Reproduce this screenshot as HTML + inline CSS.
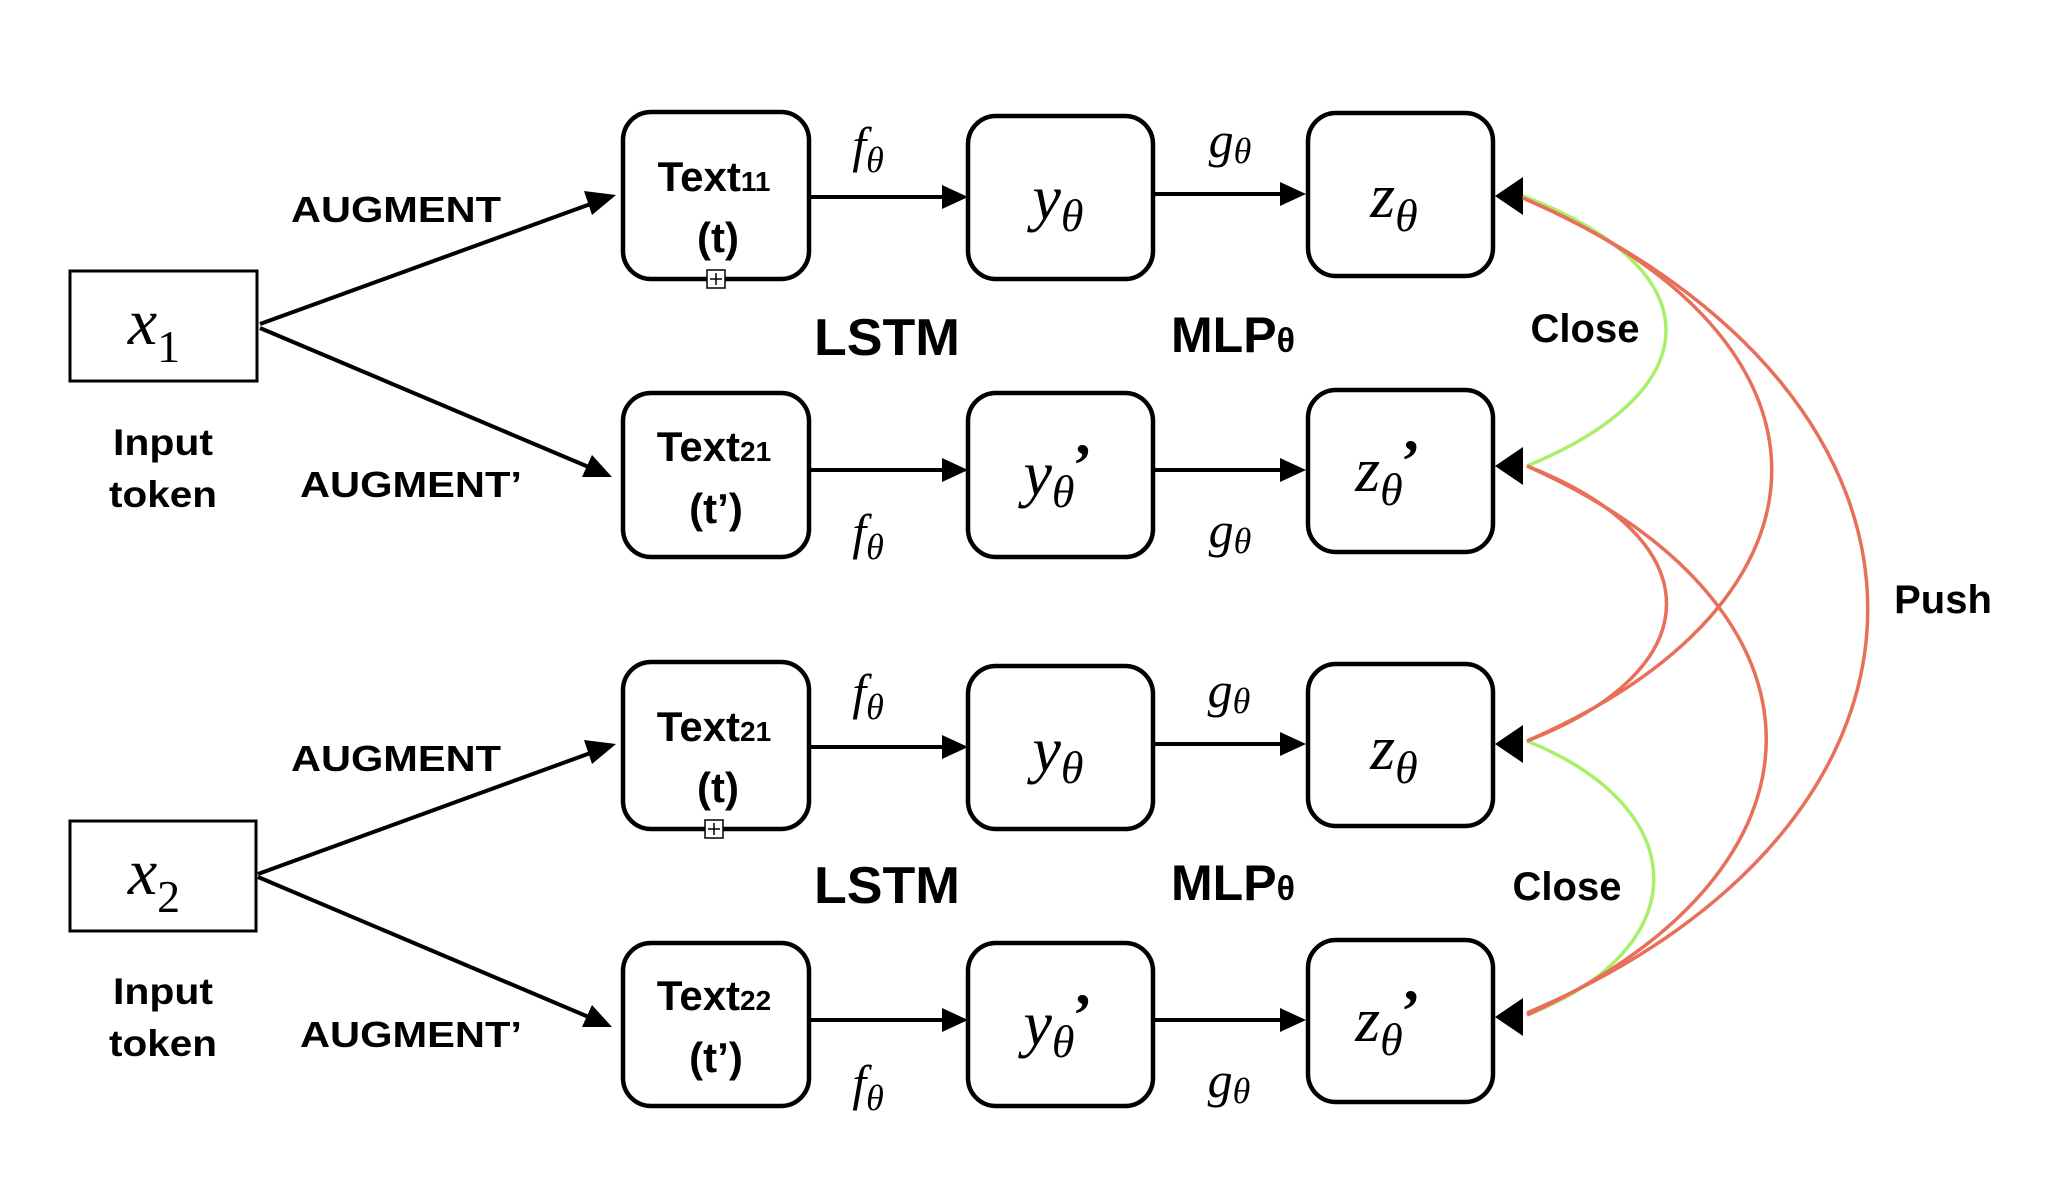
<!DOCTYPE html>
<html><head><meta charset="utf-8"><style>
html,body{margin:0;padding:0;background:#fff;}
svg{display:block;}
.b{font-family:"Liberation Sans",sans-serif;font-weight:bold;fill:#000;}
.m{font-family:"Liberation Serif",serif;font-style:italic;fill:#000;}
</style></head><body>
<svg width="2068" height="1202" viewBox="0 0 2068 1202" xmlns="http://www.w3.org/2000/svg">
<g transform="translate(-4,-1)">
<g fill="none" stroke="#000" stroke-width="3">
<rect x="74" y="272" width="187" height="110"/>
<rect x="74" y="822" width="186" height="110"/>
</g>
<g fill="none" stroke="#000" stroke-width="4.5">
<rect x="627" y="113" width="186" height="167" rx="28"/>
<rect x="627" y="394" width="186" height="164" rx="28"/>
<rect x="627" y="663" width="186" height="167" rx="28"/>
<rect x="627" y="944" width="186" height="163" rx="28"/>
<rect x="972" y="117" width="185" height="163" rx="28"/>
<rect x="972" y="394" width="185" height="164" rx="28"/>
<rect x="972" y="667" width="185" height="163" rx="28"/>
<rect x="972" y="944" width="185" height="163" rx="28"/>
<rect x="1312" y="114" width="185" height="163" rx="28"/>
<rect x="1312" y="391" width="185" height="162" rx="28"/>
<rect x="1312" y="665" width="185" height="162" rx="28"/>
<rect x="1312" y="941" width="185" height="162" rx="28"/>
</g>
<g fill="#fff" stroke="#000" stroke-width="1.5">
<rect x="711" y="271" width="18" height="18"/><path d="M720 274v12M714 280h12"/>
<rect x="709" y="821" width="18" height="18"/><path d="M718 824v12M712 830h12"/>
</g>
<g stroke="#000" stroke-width="4" fill="none">
<line x1="264" y1="325" x2="600" y2="203"/>
<line x1="264" y1="329" x2="595" y2="469"/>
<line x1="262" y1="875" x2="600" y2="752"/>
<line x1="262" y1="878" x2="595" y2="1019"/>
<line x1="813" y1="198" x2="948" y2="198"/>
<line x1="1157" y1="195" x2="1288" y2="195"/>
<line x1="813" y1="471" x2="948" y2="471"/>
<line x1="1157" y1="471" x2="1288" y2="471"/>
<line x1="813" y1="748" x2="948" y2="748"/>
<line x1="1157" y1="745" x2="1288" y2="745"/>
<line x1="813" y1="1021" x2="948" y2="1021"/>
<line x1="1157" y1="1021" x2="1288" y2="1021"/>
</g>
<g fill="#000">
<polygon points="620,196 596,216 588,192"/>
<polygon points="616,478 586,478 596,456"/>
<polygon points="620,745 596,765 588,741"/>
<polygon points="616,1028 586,1028 596,1006"/>
<polygon points="972,198 946,186 946,210"/>
<polygon points="1310,195 1284,183 1284,207"/>
<polygon points="972,471 946,459 946,483"/>
<polygon points="1310,471 1284,459 1284,483"/>
<polygon points="972,748 946,736 946,760"/>
<polygon points="1310,745 1284,733 1284,757"/>
<polygon points="972,1021 946,1009 946,1033"/>
<polygon points="1310,1021 1284,1009 1284,1033"/>
<polygon points="1499,197 1527,178 1527,216"/>
<polygon points="1499,467 1527,448 1527,486"/>
<polygon points="1499,745 1527,726 1527,764"/>
<polygon points="1499,1018 1527,999 1527,1037"/>
</g>
<g fill="none" stroke-width="3.5">
<path stroke="#A8F06A" d="M1527 197 C1717 270 1717 390 1531 467"/>
<path stroke="#A8F06A" d="M1531 742 C1700 810 1700 950 1531 1016"/>
<path stroke="#E8705A" d="M1527 199 C1858 340 1858 600 1531 742"/>
<path stroke="#E8705A" d="M1527 199 C1986 400 1986 820 1531 1014"/>
<path stroke="#E8705A" d="M1531 467 C1717 540 1717 670 1531 742"/>
<path stroke="#E8705A" d="M1531 467 C1850 610 1850 870 1531 1016"/>
</g>
<g class="b" text-anchor="middle">
<text x="400" y="223" font-size="36" textLength="210" lengthAdjust="spacingAndGlyphs">AUGMENT</text>
<text x="415" y="498" font-size="36" textLength="222" lengthAdjust="spacingAndGlyphs">AUGMENT’</text>
<text x="400" y="772" font-size="36" textLength="210" lengthAdjust="spacingAndGlyphs">AUGMENT</text>
<text x="415" y="1048" font-size="36" textLength="222" lengthAdjust="spacingAndGlyphs">AUGMENT’</text>
<text x="167" y="456" font-size="37" textLength="100" lengthAdjust="spacingAndGlyphs">Input</text>
<text x="167" y="508" font-size="37" textLength="108" lengthAdjust="spacingAndGlyphs">token</text>
<text x="167" y="1005" font-size="37" textLength="100" lengthAdjust="spacingAndGlyphs">Input</text>
<text x="167" y="1057" font-size="37" textLength="108" lengthAdjust="spacingAndGlyphs">token</text>
<text x="891" y="356" font-size="52" textLength="146" lengthAdjust="spacingAndGlyphs">LSTM</text>
<text x="891" y="904" font-size="52" textLength="146" lengthAdjust="spacingAndGlyphs">LSTM</text>
<text x="1237" y="353" font-size="50">MLP<tspan font-size="34">θ</tspan></text>
<text x="1237" y="901" font-size="50">MLP<tspan font-size="34">θ</tspan></text>
<text x="1589" y="343" font-size="40">Close</text>
<text x="1571" y="901" font-size="40">Close</text>
<text x="1947" y="614" font-size="40">Push</text>
<text x="718" y="192" font-size="42">Text<tspan font-size="28">11</tspan></text>
<text x="722" y="253" font-size="42">(t)</text>
<text x="718" y="462" font-size="42">Text<tspan font-size="28">21</tspan></text>
<text x="720" y="524" font-size="42">(t’)</text>
<text x="718" y="742" font-size="42">Text<tspan font-size="28">21</tspan></text>
<text x="722" y="803" font-size="42">(t)</text>
<text x="718" y="1011" font-size="42">Text<tspan font-size="28">22</tspan></text>
<text x="720" y="1073" font-size="42">(t’)</text>
</g>
<g class="m" text-anchor="middle">
<text x="158" y="345" font-size="66">x<tspan font-size="46" font-style="normal" dy="18">1</tspan></text>
<text x="158" y="895" font-size="66">x<tspan font-size="46" font-style="normal" dy="18">2</tspan></text>
<text x="872" y="163" font-size="50">f<tspan font-size="36" dy="10">θ</tspan></text>
<text x="872" y="550" font-size="50">f<tspan font-size="36" dy="10">θ</tspan></text>
<text x="872" y="710" font-size="50">f<tspan font-size="36" dy="10">θ</tspan></text>
<text x="872" y="1101" font-size="50">f<tspan font-size="36" dy="10">θ</tspan></text>
<text x="1234" y="158" font-size="50">g<tspan font-size="36" dy="6">θ</tspan></text>
<text x="1234" y="548" font-size="50">g<tspan font-size="36" dy="6">θ</tspan></text>
<text x="1233" y="708" font-size="50">g<tspan font-size="36" dy="6">θ</tspan></text>
<text x="1233" y="1098" font-size="50">g<tspan font-size="36" dy="6">θ</tspan></text>
<text x="1062" y="220" font-size="64">y<tspan font-size="46" dy="12">θ</tspan></text>
<text x="1062" y="496" font-size="64">y<tspan font-size="46" dy="12">θ</tspan><tspan dy="-22" dx="-2" font-size="60" font-style="normal" font-weight="bold">’</tspan></text>
<text x="1062" y="772" font-size="64">y<tspan font-size="46" dy="12">θ</tspan></text>
<text x="1062" y="1046" font-size="64">y<tspan font-size="46" dy="12">θ</tspan><tspan dy="-22" dx="-2" font-size="60" font-style="normal" font-weight="bold">’</tspan></text>
<text x="1398" y="218" font-size="64">z<tspan font-size="46" dy="14">θ</tspan></text>
<text x="1392" y="492" font-size="64">z<tspan font-size="46" dy="14">θ</tspan><tspan dy="-24" dx="-2" font-size="60" font-style="normal" font-weight="bold">’</tspan></text>
<text x="1398" y="770" font-size="64">z<tspan font-size="46" dy="14">θ</tspan></text>
<text x="1392" y="1042" font-size="64">z<tspan font-size="46" dy="14">θ</tspan><tspan dy="-24" dx="-2" font-size="60" font-style="normal" font-weight="bold">’</tspan></text>
</g>
</g>
</svg>
</body></html>
